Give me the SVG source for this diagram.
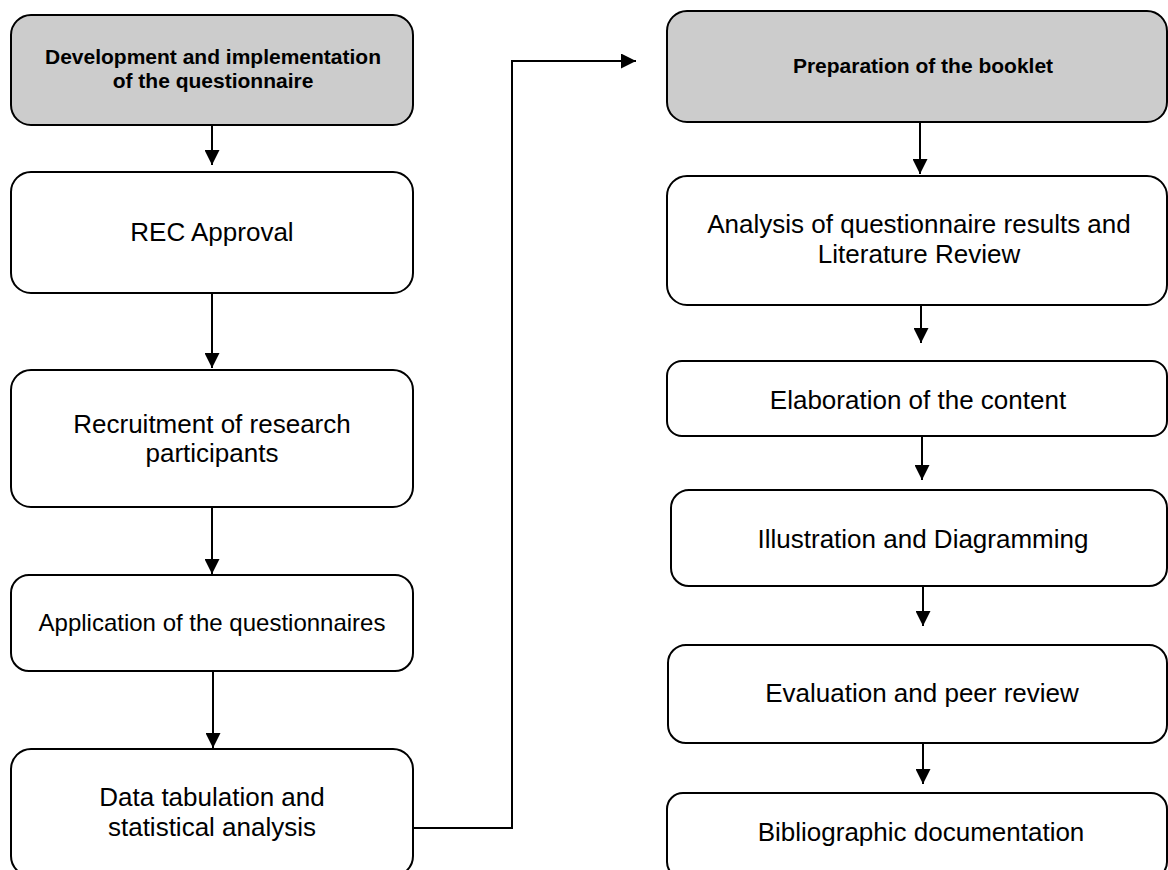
<svg xmlns="http://www.w3.org/2000/svg" width="1168" height="870" viewBox="0 0 1168 870">
<style>
.box{fill:#ffffff;stroke:#000;stroke-width:2}
.hdr{fill:#cccccc;stroke:#000;stroke-width:2}
.t{font-family:"Liberation Sans",Arial,sans-serif;font-size:26px;fill:#000;text-anchor:middle}
.tb{font-family:"Liberation Sans",Arial,sans-serif;font-size:21px;font-weight:bold;fill:#000;text-anchor:middle}
.c{fill:none;stroke:#000;stroke-width:2}
</style>
<defs>
<marker id="ah" markerUnits="userSpaceOnUse" markerWidth="15" markerHeight="15" refX="15" refY="7.5" orient="auto">
<path d="M0,0 L15,7.5 L0,15 z" fill="#000"/>
</marker>
</defs>
<rect width="1168" height="870" fill="#fff"/>
<g id="connectors">
<line class="c" x1="212" y1="125" x2="212" y2="165" marker-end="url(#ah)"/>
<line class="c" x1="212" y1="293" x2="212" y2="368" marker-end="url(#ah)"/>
<line class="c" x1="212" y1="507" x2="212" y2="574" marker-end="url(#ah)"/>
<line class="c" x1="213" y1="671" x2="213" y2="748" marker-end="url(#ah)"/>
<polyline class="c" points="413,828 512,828 512,61 636,61" marker-end="url(#ah)"/>
<line class="c" x1="920" y1="122" x2="920" y2="174" marker-end="url(#ah)"/>
<line class="c" x1="921" y1="305" x2="921" y2="343" marker-end="url(#ah)"/>
<line class="c" x1="922" y1="436" x2="922" y2="480" marker-end="url(#ah)"/>
<line class="c" x1="923" y1="586" x2="923" y2="626" marker-end="url(#ah)"/>
<line class="c" x1="923" y1="743" x2="923" y2="784" marker-end="url(#ah)"/>
</g>
<g id="n1">
<rect class="hdr" x="11" y="15" width="402" height="110" rx="20"/>
<text class="tb" x="213" y="64">Development and implementation</text>
<text class="tb" x="213" y="88">of the questionnaire</text>
</g>
<g id="n2">
<rect class="box" x="11" y="172" width="402" height="121" rx="20"/>
<text class="t" x="212" y="241">REC Approval</text>
</g>
<g id="n3">
<rect class="box" x="11" y="370" width="402" height="137" rx="20"/>
<text class="t" x="212" y="433">Recruitment of research</text>
<text class="t" x="212" y="462">participants</text>
</g>
<g id="n4">
<rect class="box" x="11" y="575" width="402" height="96" rx="18"/>
<text class="tb" x="212" y="631" style="font-weight:normal;font-size:24px">Application of the questionnaires</text>
</g>
<g id="n5">
<rect class="box" x="11" y="749" width="402" height="127" rx="20"/>
<text class="t" x="212" y="806">Data tabulation and</text>
<text class="t" x="212" y="836">statistical analysis</text>
</g>
<g id="r1">
<rect class="hdr" x="667" y="11" width="500" height="111" rx="20"/>
<text class="tb" x="923" y="73">Preparation of the booklet</text>
</g>
<g id="r2">
<rect class="box" x="667" y="176" width="500" height="129" rx="20"/>
<text class="t" x="919" y="233">Analysis of questionnaire results and</text>
<text class="t" x="919" y="263">Literature Review</text>
</g>
<g id="r3">
<rect class="box" x="667" y="361" width="500" height="75" rx="15"/>
<text class="t" x="918" y="409">Elaboration of the content</text>
</g>
<g id="r4">
<rect class="box" x="671" y="490" width="496" height="96" rx="18"/>
<text class="t" x="923" y="548">Illustration and Diagramming</text>
</g>
<g id="r5">
<rect class="box" x="668" y="645" width="499" height="98" rx="18"/>
<text class="t" x="922" y="702">Evaluation and peer review</text>
</g>
<g id="r6">
<rect class="box" x="667" y="793" width="500" height="85" rx="16"/>
<text class="t" x="921" y="841">Bibliographic documentation</text>
</g>
</svg>
